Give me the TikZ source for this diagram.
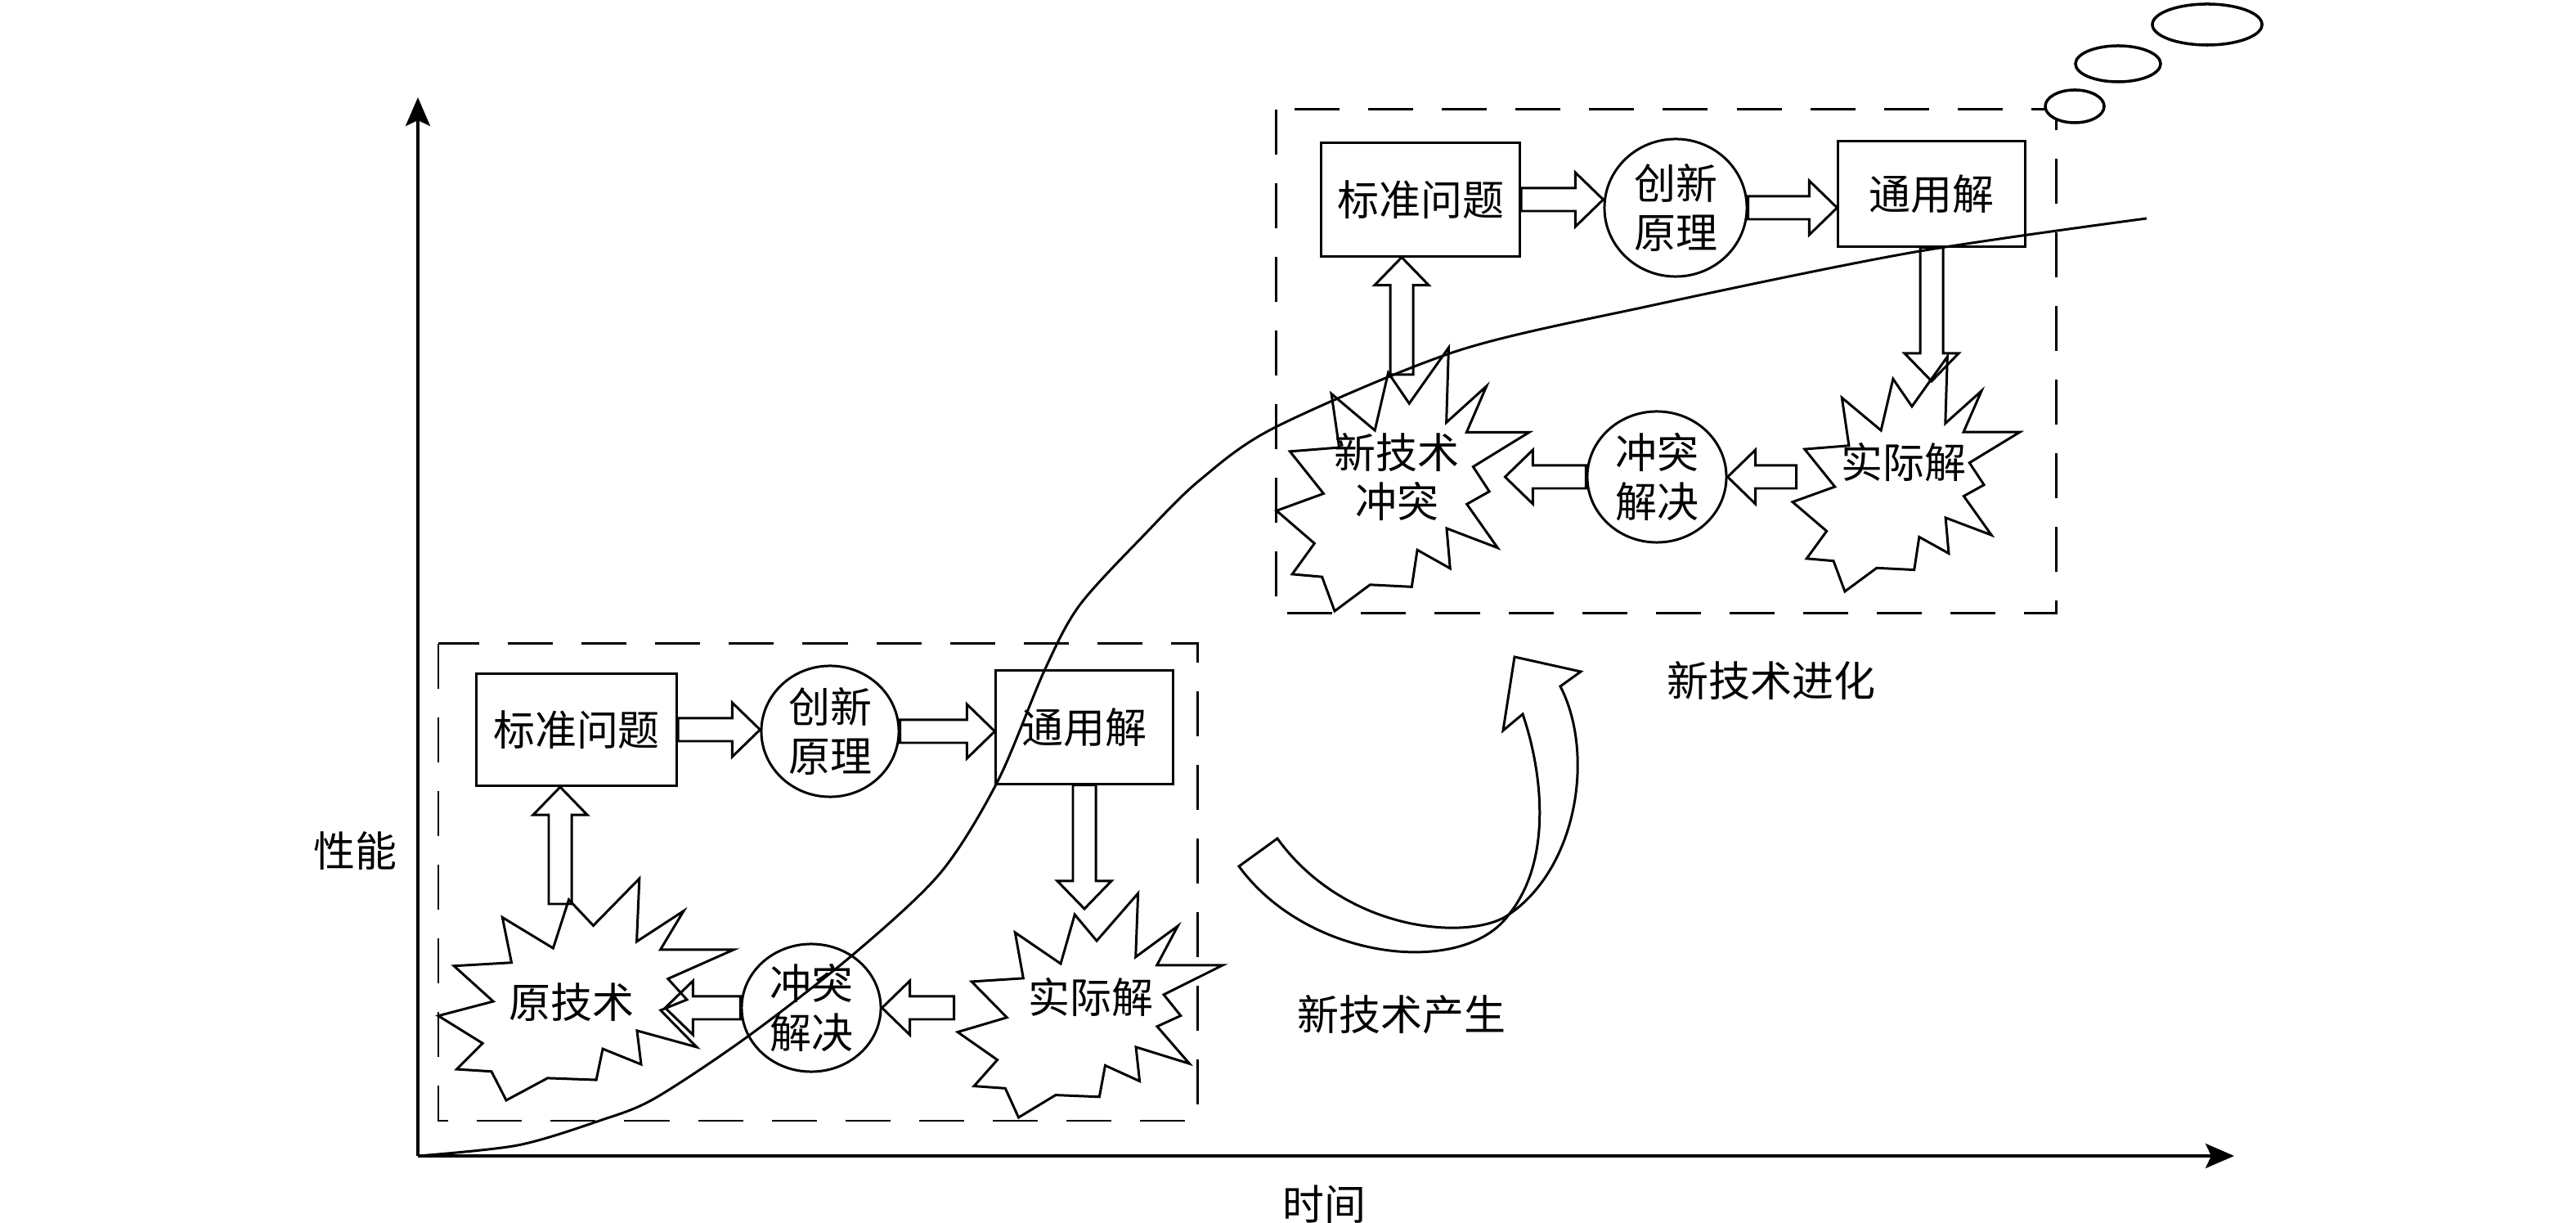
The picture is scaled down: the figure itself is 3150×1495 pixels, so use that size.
\documentclass[tikz,border=0pt]{standalone}
\usepackage{fontspec}
\newfontfamily\cjk{Noto Sans CJK SC}
\usepackage{tikz}
\usetikzlibrary{calc}
\usetikzlibrary{arrows.meta}
\usetikzlibrary{shapes.geometric}
\tikzstyle{box}=[draw, rectangle, line width=0.85pt, inner sep=0pt]
\tikzstyle{oval}=[draw, ellipse, line width=0.85pt, inner sep=0pt, align=center]
\tikzstyle{seal}=[line width=0.85pt, line join=miter]
\tikzstyle{label}=[align=center, inner sep=0pt]
\tikzstyle{hollow}=[line width=0.85pt, line join=miter]
\tikzstyle{frame}=[line width=0.85pt, dash pattern=on 0.55cm off 0.35cm]
\tikzstyle{axis}=[line width=1.1pt, -{Stealth[length=0.35cm,width=0.3cm,inset=0.07cm]}]

% explosion outline in a unit box
\newcommand{\sealpath}{(0.442,0.095) -- (0.525,0.212) -- (0.681,0) -- (0.672,0.284) -- (0.831,0.146) -- (0.752,0.321) -- (1,0.321) -- (0.778,0.452) -- (0.842,0.546) -- (0.753,0.594) -- (0.875,0.76) -- (0.673,0.686) -- (0.687,0.838) -- (0.557,0.768) -- (0.535,0.908) -- (0.37,0.9) -- (0.23,1) -- (0.18,0.87) -- (0.062,0.86) -- (0.15,0.743) -- (0,0.619) -- (0.186,0.554) -- (0.053,0.394) -- (0.248,0.379) -- (0.217,0.175) -- (0.389,0.314) -- cycle}

% hollow block arrow from #1 to #2
\newcommand{\bigarrow}[2]{%
  \coordinate (ah) at ($(#2)!0.34cm!(#1)$);
  \draw[hollow] ($(#1)!0.14cm!90:(#2)$) -- ($(ah)!0.14cm!90:(#2)$) -- ($(ah)!0.33cm!90:(#2)$) -- (#2)
    -- ($(ah)!0.33cm!-90:(#2)$) -- ($(ah)!0.14cm!-90:(#2)$) -- ($(#1)!0.14cm!-90:(#2)$) -- cycle;}

\begin{document}
\begin{tikzpicture}
        [x=0.01cm,y=-0.01cm,every node/.style={font=\cjk\fontsize{14.5pt}{17pt}\selectfont}]
            \useasboundingbox (0,0) rectangle (3150,1495);
            % axes
            \coordinate (o) at (511,1413);
            \coordinate (ytop) at (511,119);
            \coordinate (xend) at (2732,1413);
            \draw[axis] (o) -- (ytop);
            \draw[axis] (o) -- (xend);
            \node (perf) at (434,1040) {性能};
            \node (time) at (1619,1472) {时间};

            % old technology
            \draw[frame] (536,787) rectangle (1464,1370);
            \node[box, minimum width=2.45cm, minimum height=1.37cm] (std1) at (705,892) {标准问题};
            \node[oval, minimum width=1.68cm, minimum height=1.6cm] (inn1) at (1015,894) {创新\\原理};
            \node[box, minimum width=2.16cm, minimum height=1.38cm] (gen1) at (1326,889) {通用解};
            \draw[seal, shift={(536,1074)}, xscale=361, yscale=271] \sealpath;
            \node[label] (old1) at (699,1225) {原技术};
            \node[oval, minimum width=1.7cm, minimum height=1.56cm] (res1) at (992,1232) {冲突\\解决};
            \draw[seal, shift={(1171,1092)}, xscale=324, yscale=274] \sealpath;
            \node[label] (act1) at (1334,1219) {实际解};

            \coordinate (a1t) at (std1.east -| inn1.west);
            \coordinate (a2t) at (inn1.east -| gen1.west);
            \coordinate (a3t) at (1326,1111);
            \coordinate (a4b) at ([xshift=0.88cm]res1.east);
            \coordinate (a5t) at ([xshift=-0.92cm]res1.west);
            \coordinate (a6b) at (685,1105);
            \coordinate (a6t) at (a6b |- std1.south);
            \bigarrow{std1.east}{a1t}
            \bigarrow{inn1.east}{a2t}
            \bigarrow{gen1.south}{a3t}
            \bigarrow{a4b}{res1.east}
            \bigarrow{res1.west}{a5t}
            \bigarrow{a6b}{a6t}

            % new technology
            \draw[frame] (1560,134) rectangle (2514,750);
            \node[box, minimum width=2.43cm, minimum height=1.38cm] (std2) at (1737,244) {标准问题};
            \node[oval, minimum width=1.74cm, minimum height=1.68cm] (inn2) at (2049,254) {创新\\原理};
            \node[box, minimum width=2.28cm, minimum height=1.28cm] (gen2) at (2362,237) {通用解};
            \draw[seal, shift={(1561,425)}, xscale=309, yscale=322] \sealpath;
            \node[label] (new2) at (1708,583) {新技术\\冲突};
            \node[oval, minimum width=1.7cm, minimum height=1.6cm] (res2) at (2026,583) {冲突\\解决};
            \draw[seal, shift={(2192,436)}, xscale=278, yscale=287] \sealpath;
            \node[label] (act2) at (2328,565) {实际解};

            \coordinate (b1t) at (std2.east -| inn2.west);
            \coordinate (b2t) at (inn2.east -| gen2.west);
            \coordinate (b3t) at (2362,466);
            \coordinate (b4b) at ([xshift=0.84cm]res2.east);
            \coordinate (b5t) at ([xshift=-0.99cm]res2.west);
            \coordinate (b6b) at (1714,458);
            \coordinate (b6t) at (b6b |- std2.south);
            \bigarrow{std2.east}{b1t}
            \bigarrow{inn2.east}{b2t}
            \bigarrow{gen2.south}{b3t}
            \bigarrow{b4b}{res2.east}
            \bigarrow{res2.west}{b5t}
            \bigarrow{b6b}{b6t}

            % s-curve
            \draw[line width=0.85pt] plot[smooth] coordinates {(511,1413) (633,1400) (733,1370) (800,1343) (913,1268) (1043,1167) (1150,1067) (1220,955) (1277,820) (1320,740) (1400,653) (1467,587) (1560,522) (1782,429) (2017,374) (2336,309) (2625,267)};

            % jump arrow
            \draw[hollow] (1515,1059) .. controls (1600,1175) and (1790,1195) .. (1845,1118)
                .. controls (1930,1060) and (1950,920) .. (1908,839) -- (1933,821) -- (1852,803) -- (1838,893) -- (1862,873)
                .. controls (1885,940) and (1900,1050) .. (1845,1118)
                .. controls (1800,1150) and (1647,1142) .. (1562,1025) -- cycle;
            \node (birth) at (1714,1240) {新技术产生};
            \node (evol) at (2166,832) {新技术进化};

            % bubbles
            \draw[line width=1pt, fill=white] (2537,130) ellipse [x radius=0.36cm, y radius=0.2cm];
            \draw[line width=1pt, fill=white] (2590,78) ellipse [x radius=0.52cm, y radius=0.22cm];
            \draw[line width=1pt, fill=white] (2699,30) ellipse [x radius=0.67cm, y radius=0.25cm];
        \end{tikzpicture}
\end{document}
